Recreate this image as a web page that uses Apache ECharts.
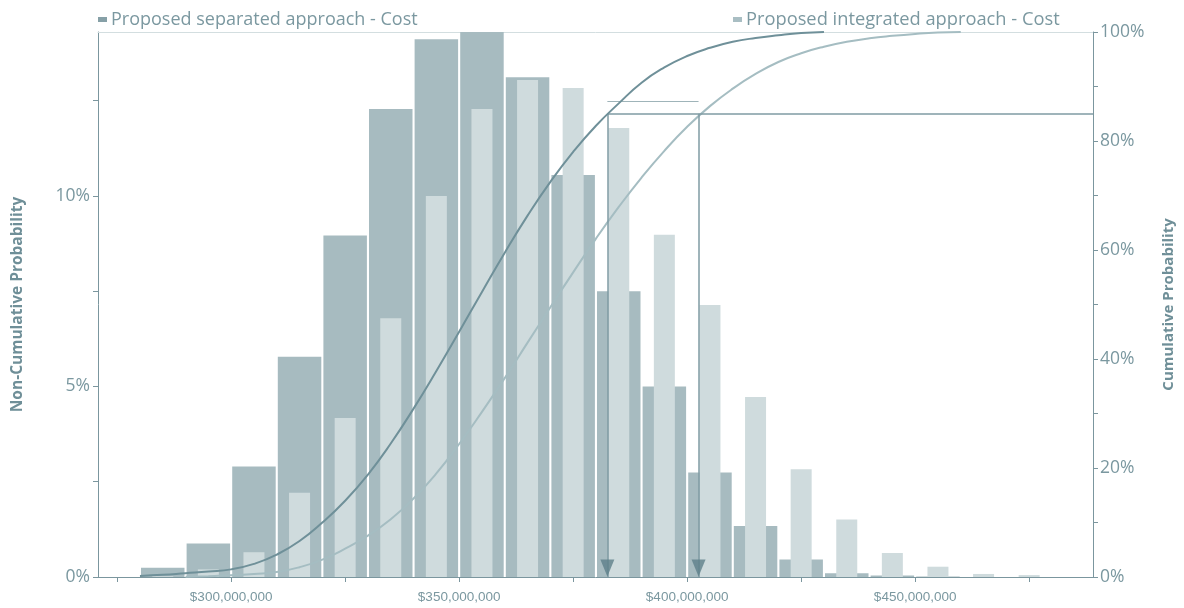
<!DOCTYPE html>
<html>
<head>
<meta charset="utf-8">
<script src="https://cdn.jsdelivr.net/npm/echarts@6/dist/echarts.min.js"></script>
<style>
html,body{margin:0;padding:0;background:#fff;}
#chart{width:1184px;height:608px;}
</style>
</head>
<body>
<div id="chart"></div>
<script>
// ---- data ----
const seriesNames = ['Proposed separated approach - Cost', 'Proposed integrated approach - Cost'];
// histogram bin centres ($ millions)
const binCenters = [285, 295, 305, 315, 325, 335, 345, 355, 365, 375, 385, 395, 405, 415, 425, 435, 445, 455, 465, 475];
// non-cumulative probability (%)
const separatedPct = [0.24, 0.88, 2.90, 5.78, 8.96, 12.28, 14.11, 14.30, 13.11, 10.55, 7.50, 5.00, 2.74, 1.34, 0.46, 0.10, 0.04, 0.01, 0, 0];
const integratedPct = [0.02, 0.20, 0.65, 2.21, 4.17, 6.79, 10.00, 12.28, 13.04, 12.83, 11.78, 8.98, 7.14, 4.72, 2.83, 1.51, 0.63, 0.27, 0.08, 0.05];
// cumulative curve sample costs ($ millions)
const cumCosts = [280, 285, 290, 295, 300, 305, 310, 315, 320, 325, 330, 335, 340, 345, 350, 355, 360, 365, 370, 375,
                  380, 385, 390, 395, 400, 405, 410, 415, 420, 425, 430, 435, 440, 445, 450, 455, 460];
const separatedCum = [0.2, 0.4, 0.7, 1.0, 1.4, 2.4, 4.1, 6.6, 10.0, 14.0, 18.8, 24.5, 30.9, 37.8, 45.0, 52.3, 59.5, 66.3, 72.5, 78.0,
                      82.8, 86.9, 90.7, 93.5, 95.6, 97.1, 98.2, 98.9, 99.4, 99.8, 100, null, null, null, null, null, null];
const integratedCum = [null, null, 0.05, 0.15, 0.3, 0.55, 0.9, 1.8, 3.2, 5.2, 7.6, 10.6, 14.4, 19.0, 24.4, 30.3, 36.5, 43.0, 49.5, 55.9,
                       62.1, 67.9, 73.3, 78.2, 82.6, 86.4, 89.6, 92.3, 94.5, 96.1, 97.3, 98.2, 98.85, 99.3, 99.65, 99.9, 100];
// 85th percentile markers
const p85Costs = [382.5, 402.5];
const p85Level = 85;
const bracketLevel = 87.3;
// axis ticks / labels
const xTickValues = [275, 300, 325, 350, 375, 400, 425, 450, 475];
const xLabelValues = [300, 350, 400, 450];
const leftTickValues = [0, 2.5, 5, 7.5, 10, 12.5];
const leftLabelValues = [0, 5, 10];
const rightTickValues = [0, 10, 20, 30, 40, 50, 60, 70, 80, 90, 100];
const rightLabelValues = [0, 20, 40, 60, 80, 100];

// ---- styling ----
const X_MIN = 270.8, X_MAX = 489.0, LEFT_MAX = 14.3;
const axisColor = '#7b969e';
const textColor = '#7b98a0';
const darkBar = '#a7bbc0';
const lightBar = '#cfdbdd';
const darkLine = '#6f9099';
const lightLine = '#a5bdc2';
const markColor = '#7f9ba3';
const FONT = '"Open Sans", "DejaVu Sans", sans-serif';

const chart = echarts.init(document.getElementById('chart'), null, {renderer: 'canvas'});

const fmtMoney = v => '$' + Math.round(v * 1e6).toLocaleString('en-US');

const option = {
  animation: false,
  backgroundColor: '#ffffff',
  textStyle: {fontFamily: FONT},
  grid: {left: 98, right: 91, top: 32, bottom: 31, containLabel: false},
  legend: [
    {
      data: [seriesNames[0]], left: 98, top: 9, padding: 0,
      icon: 'rect', itemWidth: 9, itemHeight: 5, itemGap: 4,
      itemStyle: {color: '#86a0a7'},
      textStyle: {color: textColor, fontSize: 18, fontFamily: FONT, lineHeight: 21, padding: [0, 0, 0, -1]}
    },
    {
      data: [seriesNames[1]], left: 733, top: 9, padding: 0,
      icon: 'rect', itemWidth: 9, itemHeight: 5, itemGap: 4,
      itemStyle: {color: '#a9bec3'},
      textStyle: {color: textColor, fontSize: 18.3, fontFamily: FONT, lineHeight: 21, padding: [0, 0, 0, -1]}
    }
  ],
  xAxis: [
    {
      type: 'value', position: 'bottom', min: X_MIN, max: X_MAX,
      axisLine: {show: true, onZero: false, lineStyle: {color: axisColor, width: 1}},
      axisTick: {show: true, inside: false, length: 5, customValues: xTickValues, lineStyle: {color: axisColor}},
      axisLabel: {show: true, customValues: xLabelValues, formatter: fmtMoney, color: textColor,
                  fontSize: 13.5, fontFamily: '"Liberation Sans", Arial, sans-serif', margin: 13},
      splitLine: {show: false}
    },
    {
      type: 'value', position: 'top', min: X_MIN, max: X_MAX,
      axisLine: {show: true, onZero: false, lineStyle: {color: '#d3dee0', width: 1}},
      axisTick: {show: false}, axisLabel: {show: false}, splitLine: {show: false}
    }
  ],
  yAxis: [
    {
      type: 'value', position: 'left', min: 0, max: LEFT_MAX,
      name: 'Non-Cumulative Probability', nameLocation: 'middle', nameRotate: 90, nameGap: 72,
      nameTextStyle: {color: '#6f8f98', fontSize: 15.5, fontWeight: 'bold', fontFamily: FONT},
      axisLine: {show: true, onZero: false, lineStyle: {color: axisColor, width: 1}},
      axisTick: {show: true, inside: false, length: 5, customValues: leftTickValues, lineStyle: {color: axisColor}},
      axisLabel: {show: true, customValues: leftLabelValues, formatter: v => v + '%', color: textColor,
                  fontSize: 17.5, fontFamily: FONT, margin: 8},
      splitLine: {show: false}
    },
    {
      type: 'value', position: 'right', min: 0, max: 100,
      name: 'Cumulative Probability', nameLocation: 'middle', nameRotate: 90, nameGap: 68,
      nameTextStyle: {color: '#6f8f98', fontSize: 15, fontWeight: 'bold', fontFamily: FONT},
      axisLine: {show: true, onZero: false, lineStyle: {color: axisColor, width: 1}},
      axisTick: {show: true, inside: false, length: 5, customValues: rightTickValues, lineStyle: {color: axisColor}},
      axisLabel: {show: true, customValues: rightLabelValues, formatter: v => v + '%', color: textColor,
                  fontSize: 17.5, fontFamily: FONT, margin: 7},
      splitLine: {show: false}
    }
  ],
  series: [
    {
      name: seriesNames[0], type: 'bar', xAxisIndex: 0, yAxisIndex: 0,
      barWidth: 43.5, z: 2,
      itemStyle: {color: darkBar},
      data: binCenters.map((c, i) => [c, separatedPct[i]])
    },
    {
      name: seriesNames[1], type: 'bar', xAxisIndex: 1, yAxisIndex: 0,
      barWidth: 21, z: 3,
      itemStyle: {color: lightBar},
      data: binCenters.map((c, i) => [c, integratedPct[i]])
    },
    {
      name: 'Integrated cumulative', type: 'line', xAxisIndex: 0, yAxisIndex: 1,
      smooth: 0.5, showSymbol: false, symbol: 'none', z: 4,
      lineStyle: {color: lightLine, width: 2},
      data: cumCosts.map((c, i) => [c, integratedCum[i]]).filter(d => d[1] !== null)
    },
    {
      name: 'Separated cumulative', type: 'line', xAxisIndex: 0, yAxisIndex: 1,
      smooth: 0.5, showSymbol: false, symbol: 'none', z: 5,
      lineStyle: {color: darkLine, width: 2},
      data: cumCosts.map((c, i) => [c, separatedCum[i]]).filter(d => d[1] !== null),
      markLine: {
        silent: true, symbol: ['none', 'none'], animation: false,
        label: {show: false},
        lineStyle: {color: markColor, width: 1.5, type: 'solid'},
        emphasis: {disabled: true},
        data: [
          [{coord: [p85Costs[0], p85Level]}, {coord: [X_MAX, p85Level]}],
          [{coord: [p85Costs[0], p85Level]}, {coord: [p85Costs[0], 0]}],
          [{coord: [p85Costs[1], p85Level]}, {coord: [p85Costs[1], 0]}],
          [{coord: [p85Costs[0], bracketLevel], lineStyle: {color: '#9fb4b9', width: 1}},
           {coord: [p85Costs[1], bracketLevel]}]
        ]
      }
    },
    {
      name: 'P85 arrows', type: 'scatter', xAxisIndex: 0, yAxisIndex: 1, z: 6,
      symbol: 'triangle', symbolRotate: 180, symbolSize: [14, 17], symbolOffset: [0, -9],
      itemStyle: {color: '#5e808a'},
      silent: true,
      data: p85Costs.map(c => [c, 0])
    }
  ]
};
chart.setOption(option);
</script>
</body>
</html>
